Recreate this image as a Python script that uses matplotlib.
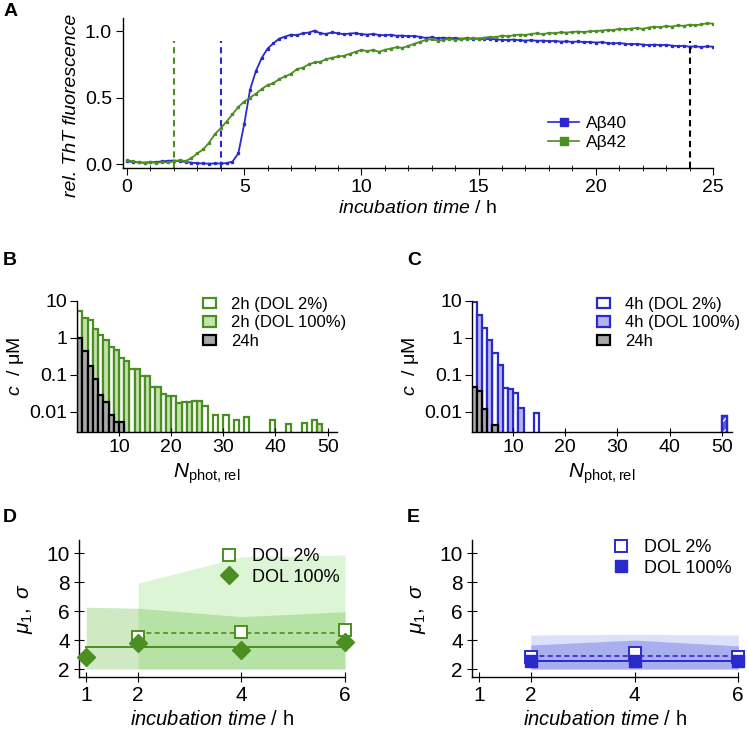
import numpy as np
import matplotlib
matplotlib.use("Agg")
import matplotlib.pyplot as plt
from matplotlib.ticker import MultipleLocator, FormatStrFormatter, NullLocator
from matplotlib.patches import Patch
from matplotlib.lines import Line2D

plt.rcParams.update({
    "font.family": "Liberation Sans",
    "mathtext.fontset": "custom",
    "mathtext.rm": "Liberation Sans",
    "mathtext.it": "Liberation Sans:italic",
    "mathtext.bf": "Liberation Sans:bold",
    "font.size": 13,
    "axes.linewidth": 1.0,
})

# ---------------- data ----------------
# A: ThT kinetics, sampled every 0.25 h
t_hours = np.arange(0, 25.01, 0.25)
abeta40 = [
    0.020, 0.016, 0.012, 0.010, 0.012, 0.015, 0.020, 0.024, 0.026, 0.022,
    0.016, 0.010, 0.006, 0.004, 0.003, 0.004, 0.004, 0.007, 0.018, 0.080,
    0.300, 0.560, 0.700, 0.800, 0.870, 0.910, 0.945, 0.960, 0.975, 0.970,
    0.985, 0.990, 1.005, 0.985, 0.980, 0.992, 0.985, 0.978, 0.983, 0.986,
    0.978, 0.975, 0.980, 0.972, 0.970, 0.974, 0.966, 0.968, 0.962, 0.965,
    0.958, 0.950, 0.955, 0.948, 0.952, 0.946, 0.950, 0.944, 0.948, 0.942,
    0.945, 0.940, 0.943, 0.938, 0.936, 0.934, 0.938, 0.932, 0.930, 0.933,
    0.928, 0.930, 0.925, 0.928, 0.922, 0.924, 0.920, 0.923, 0.918, 0.920,
    0.915, 0.918, 0.912, 0.908, 0.912, 0.906, 0.902, 0.905, 0.900, 0.896,
    0.900, 0.895, 0.898, 0.892, 0.888, 0.890, 0.884, 0.886, 0.882, 0.886,
    0.884,
]
abeta42 = [
    0.030, 0.020, 0.012, 0.010, 0.013, 0.009, 0.014, 0.012, 0.020, 0.030,
    0.022, 0.045, 0.080, 0.110, 0.160, 0.225, 0.270, 0.320, 0.375, 0.430,
    0.470, 0.500, 0.530, 0.565, 0.595, 0.610, 0.640, 0.660, 0.680, 0.715,
    0.725, 0.750, 0.765, 0.770, 0.790, 0.800, 0.810, 0.815, 0.830, 0.845,
    0.860, 0.850, 0.860, 0.845, 0.860, 0.870, 0.880, 0.875, 0.890, 0.905,
    0.920, 0.935, 0.940, 0.930, 0.935, 0.942, 0.936, 0.940, 0.945, 0.948,
    0.945, 0.952, 0.958, 0.955, 0.968, 0.962, 0.970, 0.975, 0.972, 0.980,
    0.985, 0.978, 0.988, 0.985, 0.992, 0.990, 0.995, 0.998, 0.994, 1.000,
    1.002, 1.005, 1.010, 1.008, 1.020, 1.015, 1.020, 1.025, 1.018, 1.028,
    1.035, 1.030, 1.040, 1.035, 1.045, 1.040, 1.050, 1.045, 1.052, 1.060,
    1.058,
]
sample_times = [2, 4, 24]   # green, blue, black dashed markers

# B: 2h histograms (Aβ42)
n_b_dol2 = [2, 4, 6, 8, 10, 12, 14, 16, 18, 20, 22, 24, 26, 28, 30, 32, 34, 39, 42, 45, 47]
c_b_dol2 = [5.5, 3.0, 1.2, 0.58, 0.29, 0.14, 0.09, 0.045, 0.029, 0.025, 0.017, 0.018,
            0.013, 0.007, 0.007, 0.005, 0.006, 0.005, 0.0036, 0.004, 0.005]
n_b_dol100 = [3, 5, 7, 9, 11, 13, 15, 17, 19, 21, 23, 25, 48]
c_b_dol100 = [3.5, 1.75, 0.88, 0.47, 0.23, 0.14, 0.09, 0.045, 0.026, 0.016, 0.017, 0.018, 0.0036]
n_b_24h = [2, 3, 4, 5, 6, 7, 8, 9, 10]
c_b_24h = [1.0, 0.45, 0.17, 0.076, 0.027, 0.017, 0.007, 0.0043, 0.0043]

# C: 4h histograms (Aβ40)
n_c_dol2 = [2, 4, 6, 8, 10, 14]
c_c_dol2 = [9.3, 1.9, 0.39, 0.044, 0.032, 0.0083]
n_c_dol100 = [3, 5, 7, 9, 11, 50]
c_c_dol100 = [4.3, 0.9, 0.19, 0.04, 0.012, 0.0067]
n_c_24h = [2, 3, 4, 6]
c_c_24h = [0.045, 0.036, 0.011, 0.0033]

# D: Aβ42 mu1 and sigma band
t_d_dol2 = [2, 4, 6]
mu_d_dol2 = [4.23, 4.54, 4.7]
hi_d_dol2 = [7.93, 9.75, 9.88]
mean_d_dol2 = 4.47
t_d_dol100 = [1, 2, 4, 6]
mu_d_dol100 = [2.85, 3.82, 3.31, 3.89]
hi_d_dol100 = [6.27, 6.2, 5.62, 5.96]
mean_d_dol100 = 3.5
band_low = 2.0

# E: Aβ40 mu1 and sigma band
t_e = [2, 4, 6]
mu_e_dol2 = [2.85, 3.08, 2.85]
hi_e_dol2 = [4.35, 4.4, 4.35]
mean_e_dol2 = 2.88
mu_e_dol100 = [2.57, 2.57, 2.57]
hi_e_dol100 = [3.66, 4.0, 3.6]
mean_e_dol100 = 2.57

# ---------------- style ----------------
blue = "#2a2acc"
green = "#4b8f22"
lgreen = "#c2e4aa"
lblue = "#b4b4f4"
gray = "#a8a8a8"

W, H = 747, 732
fig = plt.figure(figsize=(W / 100, H / 100), dpi=100)


def box(l, t, r, b):
    return [l / W, 1 - b / H, (r - l) / W, (b - t) / H]


def clean(ax):
    ax.spines["top"].set_visible(False)
    ax.spines["right"].set_visible(False)


# ---------------- A ----------------
axA = fig.add_axes(box(123, 18, 713, 168))
clean(axA)
axA.plot(t_hours, abeta40, color=blue, lw=1.3, marker="s", ms=1.4, label="Aβ40")
axA.plot(t_hours, abeta42, color=green, lw=1.3, marker="s", ms=1.4, label="Aβ42")
for tt, col in zip(sample_times, [green, blue, "black"]):
    axA.axvline(tt, ymin=0.0, ymax=0.85, color=col, ls=(0, (3, 2)), lw=1.5)
axA.set_xlim(-0.17, 25)
axA.set_ylim(-0.03, 1.1)
axA.set_xticks([0, 5, 10, 15, 20, 25])
axA.xaxis.set_minor_locator(MultipleLocator(1))
axA.set_yticks([0, 0.5, 1.0])
axA.yaxis.set_major_formatter(FormatStrFormatter("%.1f"))
axA.tick_params(which="major", direction="out", length=5, labelsize=14, pad=3)
axA.tick_params(which="minor", direction="inout", length=5)
axA.set_xlabel(r"$\mathit{incubation\ time}$ / h", fontsize=14, labelpad=3)
axA.set_ylabel("rel. ThT fluorescence", fontsize=14, style="italic")
axA.yaxis.set_label_coords(-0.073, 0.42)
hA = [Line2D([], [], color=blue, lw=1.2, marker="s", ms=6),
      Line2D([], [], color=green, lw=1.2, marker="s", ms=6)]
fig.legend(hA, ["Aβ40", "Aβ42"], loc="upper left", bbox_to_anchor=(548 / W, 1 - 116 / H),
           frameon=False, borderpad=0, borderaxespad=0, handlelength=1.8,
           handletextpad=0.4, labelspacing=0.2, fontsize=12.5)


# ---------------- B / C ----------------
def hist_panel(ax, n2, c2, n100, c100, n24, c24, col, lcol, xlim):
    clean(ax)
    ax.set_yscale("log")
    ax.bar(n2, c2, width=1, align="edge", bottom=1e-3, facecolor="white",
           edgecolor=col, lw=1.6, zorder=1)
    ax.bar(n100, c100, width=1, align="edge", bottom=1e-3, facecolor=lcol,
           edgecolor=col, lw=1.6, zorder=1)
    ax.bar(n24, c24, width=1, align="edge", bottom=1e-3, facecolor=gray,
           edgecolor="black", lw=1.6, zorder=2)
    ax.set_xlim(*xlim)
    ax.set_ylim(0.0028, 10)
    ax.set_yticks([0.01, 0.1, 1, 10])
    ax.set_yticklabels(["0.01", "0.1", "1", "10"])
    ax.yaxis.set_minor_locator(NullLocator())
    ax.set_xticks([10, 20, 30, 40, 50])
    ax.tick_params(axis="x", direction="inout", length=6, labelsize=14, pad=2)
    ax.tick_params(axis="y", direction="out", length=5, labelsize=14, pad=2)
    ax.set_xlabel(r"$N_{\mathrm{phot,rel}}$", fontsize=15, labelpad=4)
    ax.set_ylabel(r"$c$  / μM", fontsize=14, labelpad=2)


axB = fig.add_axes(box(77, 301, 337, 432))
hist_panel(axB, n_b_dol2, c_b_dol2, n_b_dol100, c_b_dol100, n_b_24h, c_b_24h,
           green, lgreen, (1.95, 51.8))
hB = [Patch(facecolor="white", edgecolor=green, lw=1.6),
      Patch(facecolor=lgreen, edgecolor=green, lw=1.6),
      Patch(facecolor=gray, edgecolor="black", lw=1.6)]
fig.legend(hB, ["2h (DOL 2%)", "2h (DOL 100%)", "24h"], loc="upper left",
           bbox_to_anchor=(203 / W, 1 - 297 / H), frameon=False, borderpad=0,
           borderaxespad=0, handlelength=0.8, handleheight=0.6, handletextpad=0.9,
           labelspacing=0.2, fontsize=12)

axC = fig.add_axes(box(471.7, 301, 731.7, 432.3))
hist_panel(axC, n_c_dol2, c_c_dol2, n_c_dol100, c_c_dol100, n_c_24h, c_c_24h,
           blue, lblue, (2.05, 51.9))
# the single large-aggregate bar at ~50 is drawn hatched
axC.bar(n_c_dol100[-1:], c_c_dol100[-1:], width=1, align="edge", bottom=1e-3,
        facecolor="#5a5ae6", edgecolor="white", hatch="///", lw=0, zorder=1.5)
axC.bar(n_c_dol100[-1:], c_c_dol100[-1:], width=1, align="edge", bottom=1e-3,
        fill=False, edgecolor=blue, lw=1.6, zorder=1.6)
hC = [Patch(facecolor="white", edgecolor=blue, lw=1.6),
      Patch(facecolor=lblue, edgecolor=blue, lw=1.6),
      Patch(facecolor=gray, edgecolor="black", lw=1.6)]
fig.legend(hC, ["4h (DOL 2%)", "4h (DOL 100%)", "24h"], loc="upper left",
           bbox_to_anchor=(597 / W, 1 - 297 / H), frameon=False, borderpad=0,
           borderaxespad=0, handlelength=0.8, handleheight=0.6, handletextpad=0.9,
           labelspacing=0.2, fontsize=12)


# ---------------- D / E ----------------
def mu_axes(ax):
    clean(ax)
    ax.set_xlim(0.86, 6.0)
    ax.set_ylim(1.47, 10.92)
    ax.set_xticks([1, 2, 4, 6])
    ax.set_yticks([2, 4, 6, 8, 10])
    ax.tick_params(direction="inout", length=7, labelsize=15, pad=3)
    ax.set_xlabel(r"$\mathit{incubation\ time}$ / h", fontsize=14.5, labelpad=4)
    ax.set_ylabel(r"$\mu_{\mathit{1}},\ \sigma$", fontsize=15, labelpad=8)


axD = fig.add_axes(box(79, 540, 345, 676.7))
mu_axes(axD)
axD.fill_between(t_d_dol2, band_low, hi_d_dol2, color="#dcf5d4", lw=0, zorder=0)
axD.fill_between(t_d_dol100, band_low, hi_d_dol100, color="#5fb83a", alpha=0.3, lw=0, zorder=0.5)
axD.plot([t_d_dol2[0], t_d_dol2[-1]], [mean_d_dol2] * 2, color=green, lw=1.2, ls=(0, (3, 2)))
axD.plot([t_d_dol100[0], t_d_dol100[-1]], [mean_d_dol100] * 2, color=green, lw=1.4)
axD.plot(t_d_dol2, mu_d_dol2, ls="none", marker="s", ms=8, mfc="white", mec=green,
         mew=1.4, clip_on=False, zorder=3)
axD.plot(t_d_dol100, mu_d_dol100, ls="none", marker="D", ms=9, color=green,
         clip_on=False, zorder=3)
hD = [Line2D([], [], ls="none", marker="s", ms=8, mfc="white", mec=green, mew=1.4),
      Line2D([], [], ls="none", marker="D", ms=9, color=green)]
fig.legend(hD, ["DOL 2%", "DOL 100%"], loc="upper left",
           bbox_to_anchor=(218 / W, 1 - 548 / H), frameon=False, borderpad=0,
           borderaxespad=0, handlelength=1.2, handletextpad=0.7,
           labelspacing=0.2, fontsize=13)

axE = fig.add_axes(box(471.7, 540, 738.3, 676.7))
mu_axes(axE)
axE.fill_between(t_e, band_low, hi_e_dol2, color="#dde0fa", lw=0, zorder=0)
axE.fill_between(t_e, band_low, hi_e_dol100, color="#a9aeee", lw=0, zorder=0.5)
axE.plot([t_e[0], t_e[-1]], [mean_e_dol2] * 2, color=blue, lw=1.2, ls=(0, (3, 2)))
axE.plot([t_e[0], t_e[-1]], [mean_e_dol100] * 2, color=blue, lw=1.4)
axE.plot(t_e, mu_e_dol2, ls="none", marker="s", ms=8, mfc="white", mec=blue,
         mew=1.4, clip_on=False, zorder=3)
axE.plot(t_e, mu_e_dol100, ls="none", marker="s", ms=8, color=blue,
         clip_on=False, zorder=3)
hE = [Line2D([], [], ls="none", marker="s", ms=8, mfc="white", mec=blue, mew=1.4),
      Line2D([], [], ls="none", marker="s", ms=8, color=blue)]
fig.legend(hE, ["DOL 2%", "DOL 100%"], loc="upper left",
           bbox_to_anchor=(610 / W, 1 - 539 / H), frameon=False, borderpad=0,
           borderaxespad=0, handlelength=1.2, handletextpad=0.7,
           labelspacing=0.2, fontsize=13)

# panel letters
for letter, (px, py) in zip("ABCDE", [(4, 3), (3, 252), (407, 252), (3, 509), (407, 509)]):
    fig.text(px / W, 1 - py / H, letter, fontsize=14, fontweight="bold", va="top", ha="left")

fig.savefig("out.png", dpi=100)
